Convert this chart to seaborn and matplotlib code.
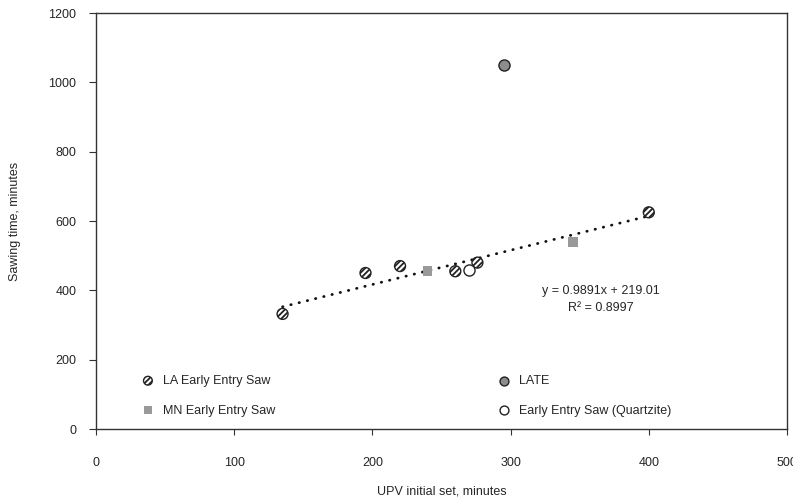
import matplotlib
matplotlib.use("Agg")
import matplotlib.pyplot as plt
import seaborn as sns
import numpy as np
import pandas as pd

# ---- data ----
la_x = [135, 195, 220, 260, 276, 400]
la_y = [332, 450, 470, 455, 480, 625]
mn_x = [240, 345]
mn_y = [455, 540]
late_x = [295]
late_y = [1050]
qz_x = [270]
qz_y = [458]
trend_coef = [0.9891, 219.01]
r_squared = 0.8997
x_ticks = [0, 100, 200, 300, 400, 500]
y_ticks = [0, 200, 400, 600, 800, 1000, 1200]

sns.set_style("ticks")
plt.rcParams['font.family'] = ['Liberation Sans', 'DejaVu Sans']
plt.rcParams['hatch.linewidth'] = 1.3

fig = plt.figure(figsize=(7.93, 5.03), dpi=100)
ax = fig.add_axes([96/793, 1-429/503, (787-96)/793, (429-13)/503])

edge = "#222222"
df_la = pd.DataFrame({"x": la_x, "y": la_y})
df_mn = pd.DataFrame({"x": mn_x, "y": mn_y})
df_late = pd.DataFrame({"x": late_x, "y": late_y})
df_qz = pd.DataFrame({"x": qz_x, "y": qz_y})

# trend line
xs = np.array([min(la_x + mn_x + qz_x), max(la_x + mn_x + qz_x)], dtype=float)
sns.lineplot(x=xs, y=trend_coef[0]*xs + trend_coef[1], ax=ax, color="#111111",
             linestyle=(0, (0.15, 2.9)), linewidth=2.0, dash_capstyle="round", zorder=2)

sns.scatterplot(data=df_la, x="x", y="y", ax=ax, marker="o", s=62, facecolor="white",
                edgecolor=edge, linewidth=1.0, hatch="//////", zorder=3, label="LA Early Entry Saw")
sns.scatterplot(data=df_mn, x="x", y="y", ax=ax, marker="s", s=48, color="#999999",
                edgecolor="none", linewidth=0, zorder=3, label="MN Early Entry Saw")
sns.scatterplot(data=df_late, x="x", y="y", ax=ax, marker="o", s=64, color="#8c8c8c",
                edgecolor=edge, linewidth=1.0, zorder=3, label="LATE")
sns.scatterplot(data=df_qz, x="x", y="y", ax=ax, marker="o", s=64, color="white",
                edgecolor=edge, linewidth=1.0, zorder=3, label="Early Entry Saw (Quartzite)")

ax.set_xlim(0, 500)
ax.set_ylim(0, 1200)
ax.set_xticks(x_ticks)
ax.set_yticks(y_ticks)
ax.tick_params(axis="x", direction="out", length=4, pad=16, labelsize=9, color="#333333")
ax.tick_params(axis="y", direction="out", length=5, pad=9, labelsize=9, color="#333333")
for s in ax.spines.values():
    s.set_color("#333333")
    s.set_linewidth(1.0)

ax.set_xlabel("UPV initial set, minutes", fontsize=9, labelpad=12)
ax.set_ylabel("Sawing time, minutes", fontsize=9, labelpad=20)

ax.text(365, 374, f"y = {trend_coef[0]}x + {trend_coef[1]:.2f}\nR\u00b2 = {r_squared}",
        ha="center", va="center", fontsize=9, linespacing=1.6, multialignment="center")

handles, labels = ax.get_legend_handles_labels()
order = [labels.index(l) for l in ["LA Early Entry Saw", "MN Early Entry Saw",
                                    "LATE", "Early Entry Saw (Quartzite)"]]
leg = ax.legend([handles[i] for i in order], [labels[i] for i in order], ncol=2,
                loc="lower left", bbox_to_anchor=(0.048, 0.003), frameon=False,
                fontsize=9, markerscale=0.8, columnspacing=17.7, handletextpad=0.6,
                labelspacing=1.4, handlelength=1.2)

fig.savefig("out.png", dpi=100)
